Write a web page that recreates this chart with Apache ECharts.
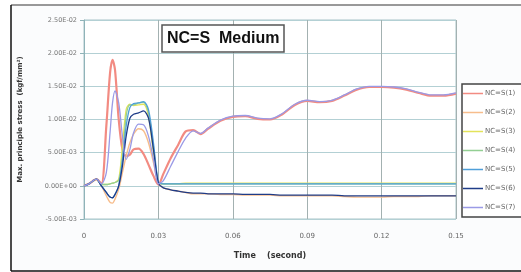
<!DOCTYPE html>
<html>
<head>
<meta charset="utf-8">
<script src="https://cdn.jsdelivr.net/npm/echarts@6/dist/echarts.min.js"></script>
<style>html,body{margin:0;padding:0;background:#fff}#c{width:521px;height:272px}</style>
</head>
<body>
<div id="c"></div>
<script>
var times = [0, 0.002, 0.005, 0.007, 0.009, 0.0105, 0.0115, 0.0125, 0.014, 0.0155, 0.017, 0.0185, 0.02, 0.022, 0.024, 0.026, 0.028, 0.03, 0.032, 0.035, 0.038, 0.041, 0.044, 0.047, 0.05, 0.055, 0.06, 0.065, 0.07, 0.075, 0.08, 0.085, 0.09, 0.095, 0.1, 0.105, 0.11, 0.115, 0.12, 0.125, 0.13, 0.135, 0.14, 0.145, 0.15];
var seriesNames = ['NC=S(1)', 'NC=S(2)', 'NC=S(3)', 'NC=S(4)', 'NC=S(5)', 'NC=S(6)', 'NC=S(7)'];
var s1 = [0, 0.0003, 0.001, 0.0003, 0.009, 0.017, 0.019, 0.0175, 0.010, 0.0055, 0.0045, 0.0047, 0.0055, 0.0056, 0.0048, 0.0032, 0.0015, 0.0002, 0.0018, 0.0042, 0.0062, 0.0082, 0.0084, 0.0078, 0.0086, 0.0098, 0.0104, 0.0105, 0.0101, 0.0100, 0.0108, 0.0122, 0.0128, 0.0126, 0.0128, 0.0136, 0.0145, 0.0149, 0.0149, 0.0148, 0.0145, 0.0140, 0.0136, 0.0136, 0.0139];
var s2 = [0, 0.0003, 0.0009, 0, -0.0015, -0.0025, -0.0026, -0.002, -0.0005, 0.002, 0.0045, 0.0065, 0.0078, 0.0086, 0.0083, 0.0065, 0.0035, 0.0004, -0.0003, -0.0006, -0.0008, -0.001, -0.0012, -0.0012, -0.0012, -0.0013, -0.0013, -0.0014, -0.0014, -0.0014, -0.0015, -0.0015, -0.0015, -0.0015, -0.0015, -0.0016, -0.0017, -0.0017, -0.0017, -0.0016, -0.0016, -0.0016, -0.0015, -0.0015, -0.0015];
var s3 = [0, 0.0003, 0.001, 0.0002, 0.0002, 0.0003, 0.0004, 0.0005, 0.001, 0.006, 0.0115, 0.0123, 0.0121, 0.0122, 0.0123, 0.0105, 0.005, 0.0005, 0.0003, 0.0003, 0.0003, 0.0004, 0.0004, 0.0004, 0.0004, 0.0004, 0.0004, 0.0004, 0.0004, 0.0004, 0.0004, 0.0004, 0.0004, 0.0004, 0.0004, 0.0004, 0.0004, 0.0004, 0.0004, 0.0004, 0.0004, 0.0004, 0.0004, 0.0004, 0.0004];
var s4 = [0, 0.0003, 0.001, 0.0002, 0.0002, 0.0003, 0.0004, 0.0005, 0.0008, 0.004, 0.0105, 0.0122, 0.0122, 0.0125, 0.0126, 0.011, 0.006, 0.0005, 0.0003, 0.0003, 0.0003, 0.0003, 0.0003, 0.0003, 0.0003, 0.0003, 0.0003, 0.0003, 0.0003, 0.0003, 0.0003, 0.0003, 0.0003, 0.0003, 0.0003, 0.0003, 0.0003, 0.0003, 0.0003, 0.0003, 0.0003, 0.0003, 0.0003, 0.0003, 0.0003];
var s5 = [0, 0.0003, 0.001, 0, -0.001, -0.0017, -0.0018, -0.0013, 0, 0.004, 0.009, 0.0118, 0.0124, 0.0125, 0.0127, 0.0115, 0.0065, 0.0006, 0.0003, 0.0003, 0.0003, 0.0003, 0.0003, 0.0003, 0.0003, 0.0003, 0.0003, 0.0003, 0.0003, 0.0003, 0.0003, 0.0003, 0.0003, 0.0003, 0.0003, 0.0003, 0.0003, 0.0003, 0.0003, 0.0003, 0.0003, 0.0003, 0.0003, 0.0003, 0.0003];
var s6 = [0, 0.0003, 0.001, 0, -0.001, -0.0017, -0.0018, -0.0013, 0, 0.003, 0.0075, 0.0102, 0.0108, 0.011, 0.0113, 0.0102, 0.0055, 0.0004, -0.0003, -0.0006, -0.0008, -0.001, -0.0011, -0.0011, -0.0012, -0.0012, -0.0012, -0.0013, -0.0013, -0.0013, -0.0014, -0.0014, -0.0014, -0.0014, -0.0014, -0.0015, -0.0015, -0.0015, -0.0015, -0.0015, -0.0015, -0.0015, -0.0015, -0.0015, -0.0015];
var s7 = [0, 0.0003, 0.001, 0.0003, 0.002, 0.008, 0.0125, 0.0143, 0.0125, 0.0075, 0.004, 0.0055, 0.008, 0.0093, 0.0092, 0.0075, 0.004, 0.0003, 0.0008, 0.003, 0.0052, 0.0072, 0.0083, 0.0079, 0.0087, 0.0099, 0.0105, 0.0106, 0.0102, 0.0101, 0.0109, 0.0123, 0.0129, 0.0127, 0.0129, 0.0137, 0.0146, 0.0150, 0.0150, 0.0149, 0.0146, 0.0141, 0.0137, 0.0137, 0.0140];
var xTicks = [0, 0.03, 0.06, 0.09, 0.12, 0.15];
var yTickLabels = ['-5.00E-03', '0.00E+00', '5.00E-03', '1.00E-02', '1.50E-02', '2.00E-02', '2.50E-02'];

var colors = ['#f28b82', '#f7bd8c', '#e3e35a', '#93cf93', '#4f9fd9', '#1f3c88', '#9a9ae6'];
var widths = [2.2, 1.4, 1.3, 1.3, 1.3, 1.3, 1.3];
var allData = [s1, s2, s3, s4, s5, s6, s7];

var series = allData.map(function (arr, i) {
  return {
    name: seriesNames[i], type: 'line', showSymbol: false, symbol: 'none', smooth: 0.3,
    data: arr.map(function (v, k) { return [times[k], v]; }),
    lineStyle: { color: colors[i], width: widths[i] },
    itemStyle: { color: colors[i] },
    z: 2 + i
  };
});

var chart = echarts.init(document.getElementById('c'));
chart.setOption({
  animation: false,
  backgroundColor: '#fbfcfd',
  title: {
    text: 'NC=S  Medium', left: 162, top: 25,
    padding: [6, 5, 5, 5], borderColor: '#555', borderWidth: 1.5, backgroundColor: '#fff',
    textStyle: { fontSize: 16, fontWeight: 'bold', color: '#111', fontFamily: 'Liberation Sans' }
  },
  legend: {
    orient: 'vertical', left: 462, top: 84,
    data: seriesNames,
    icon: 'rect', itemWidth: 20, itemHeight: 1.5, itemGap: 10,
    padding: [5, 20, 5, 1],
    borderColor: '#444', borderWidth: 1.5, backgroundColor: '#fff',
    textStyle: { fontSize: 7, color: '#666', lineHeight: 9, fontFamily: 'DejaVu Sans', padding: [0, 0, 0, -3] }
  },
  grid: { left: 84, right: 65, top: 20, bottom: 53, show: true, backgroundColor: '#fff', borderColor: '#a9c4c8', borderWidth: 1 },
  xAxis: {
    type: 'value', min: 0, max: 0.15, interval: 0.03,
    axisLine: { show: false }, axisTick: { show: false },
    splitLine: { show: true, lineStyle: { color: '#a3b1b1', width: 1 } },
    axisLabel: { fontSize: 7, color: '#666', margin: 14, fontFamily: 'DejaVu Sans',
      formatter: function (v) { var i = Math.round(v / 0.03); return i === 0 ? '0' : String(xTicks[i]); } },
    name: 'Time    (second)', nameLocation: 'middle', nameGap: 33,
    nameTextStyle: { fontSize: 8, fontWeight: 'bold', color: '#333', fontFamily: 'DejaVu Sans' }
  },
  yAxis: {
    type: 'value', min: -0.005, max: 0.025, interval: 0.005,
    axisLine: { show: true, lineStyle: { color: '#8fb3b8' } },
    axisTick: { show: true, length: 4, lineStyle: { color: '#8fb3b8' } },
    splitLine: { show: true, lineStyle: { color: '#b3d0d4', width: 1 } },
    axisLabel: { fontSize: 6.5, color: '#777', margin: 7, fontFamily: 'DejaVu Sans',
      formatter: function (v) { var i = Math.round((v + 0.005) / 0.005); return yTickLabels[i]; } },
    name: 'Max. principle stress  (kgf/mm²)', nameLocation: 'middle', nameGap: 60, nameRotate: 90,
    nameTextStyle: { fontSize: 7, fontWeight: 'bold', color: '#333', fontFamily: 'DejaVu Sans' }
  },
  graphic: [
    { type: 'rect', shape: { x: 0, y: 0, width: 11, height: 272 }, style: { fill: '#fff' }, z: -10, silent: true },
    { type: 'rect', shape: { x: 0, y: 0, width: 521, height: 5 }, style: { fill: '#fff' }, z: -10, silent: true },
    { type: 'line', shape: { x1: 11, y1: 5, x2: 521, y2: 5 }, style: { stroke: '#777', lineWidth: 1.5 }, z: 100 },
    { type: 'line', shape: { x1: 11, y1: 5, x2: 11, y2: 271 }, style: { stroke: '#111', lineWidth: 1.5 }, z: 100 },
    { type: 'line', shape: { x1: 11, y1: 271, x2: 521, y2: 271 }, style: { stroke: '#111', lineWidth: 1.5 }, z: 100 }
  ],
  series: series
});
</script>
</body>
</html>
